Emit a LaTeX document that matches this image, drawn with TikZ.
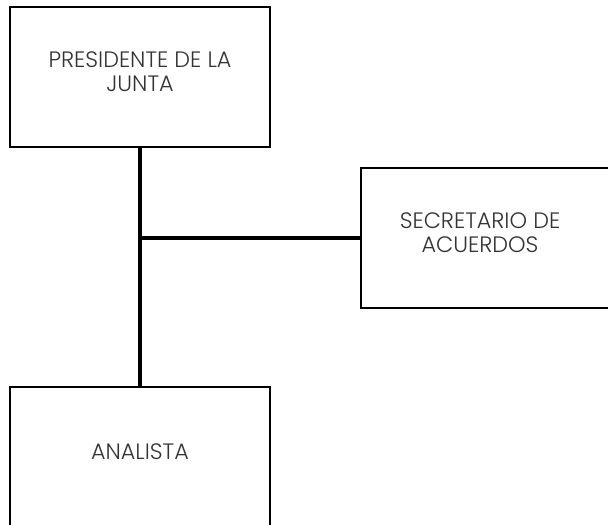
\documentclass[tikz,border=0pt]{standalone}
\usepackage{fontspec}
\setmainfont{Poppins Light}
\definecolor{txt}{HTML}{333333}
\begin{document}
\begin{tikzpicture}[x=1bp,y=-1bp,
  box/.style={draw=black, line width=2bp, fill=white, inner sep=0pt},
  lbl/.style={text=txt, align=center, font=\fontsize{22.3bp}{24bp}\selectfont, inner sep=0pt},
  conn/.style={draw=black, line width=4bp}]
\useasboundingbox (0,0) rectangle (608,525);
\clip (0,0) rectangle (608,525);
\fill[white] (0,0) rectangle (608,525);
\node[box, minimum width=259bp, minimum height=140.5bp] (pres) at (140,77.25) {};
\node[box, minimum width=259bp, minimum height=139bp] (sec) at (490.5,238) {};
\node[box, minimum width=259bp, minimum height=140.5bp] (ana) at (140,457.25) {};
\coordinate (j) at (pres.south |- sec.west);
\draw[conn] (pres.south) -- (ana.north);
\draw[conn] (j) -- (sec.west);
\node[lbl] (pres-t) at (140,72) {PRESIDENTE DE LA\\JUNTA};
\node[lbl] (sec-t) at (480,233) {SECRETARIO DE\\ACUERDOS};
\node[lbl] (ana-t) at (140,452) {ANALISTA};
\end{tikzpicture}
\end{document}
